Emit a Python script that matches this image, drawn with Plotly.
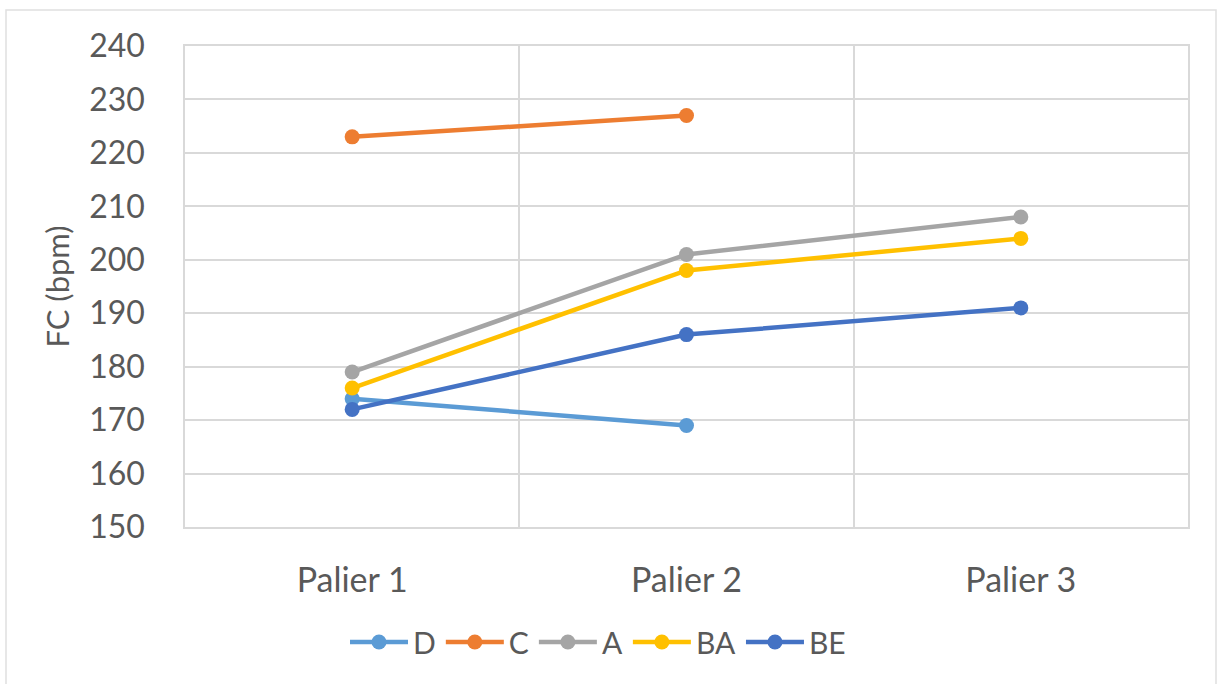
import plotly.graph_objects as go

categories = ["Palier 1", "Palier 2", "Palier 3"]
series_names = ["D", "C", "A", "BA", "BE"]
D = [174, 169, None]
C = [223, 227, None]
A = [179, 201, 208]
BA = [176, 198, 204]
BE = [172, 186, 191]
colors = ["#5B9BD5", "#ED7D31", "#A5A5A5", "#FFC000", "#4472C4"]
y_ticks = list(range(150, 241, 10))

values = [D, C, A, BA, BE]

fig = go.Figure()
for name, vals, col in zip(series_names, values, colors):
    fig.add_trace(go.Scatter(
        x=categories, y=vals, name=name, mode="lines+markers",
        line=dict(color=col, width=4.5),
        marker=dict(color=col, size=15),
        connectgaps=False,
    ))

W, H = 1218, 684
L, R, T, B = 185, 30, 46, 157
pw, ph = W - L - R, H - T - B

def px_x(x):
    return (x - L) / pw

def px_y(y):
    return (H - B - y) / ph

font_family = "Lato, 'Open Sans', sans-serif"
grid = "#D9D9D9"
txt = "#595959"

fig.update_layout(
    width=W, height=H,
    margin=dict(l=L, r=R, t=T, b=B),
    paper_bgcolor="white", plot_bgcolor="white",
    font=dict(family=font_family, color=txt, size=30),
    showlegend=True,
    legend=dict(orientation="h", x=px_x(598), xanchor="center",
                y=px_y(642), yanchor="middle",
                font=dict(size=30, color=txt),
                itemwidth=58, tracegroupgap=0),
    xaxis=dict(type="category", tickson="boundaries", showgrid=True,
               gridcolor=grid, gridwidth=1.5, showline=True, mirror=True,
               linecolor=grid, linewidth=1.5, ticks="", ticklen=0,
               ticklabelstandoff=22,
               tickfont=dict(size=34, color=txt),
               range=[-0.5, 2.5]),
    yaxis=dict(range=[150, 240], tickvals=y_ticks, showgrid=True,
               gridcolor=grid, gridwidth=1.5, showline=True, mirror=True,
               linecolor=grid, linewidth=1.5, zeroline=False, ticks="",
               ticklabelstandoff=32,
               tickfont=dict(size=32, color=txt),
               title=dict(text="FC (bpm)", font=dict(size=31, color=txt),
                          standoff=10)),
    shapes=[dict(type="rect", xref="paper", yref="paper",
                 x0=px_x(6), x1=px_x(1216), y0=px_y(700), y1=px_y(10),
                 line=dict(color="#E0E0E0", width=1.5), layer="below")],
)

fig.write_html("out.html", config={"displayModeBar": False},
               post_script="document.body.style.margin='0';")
